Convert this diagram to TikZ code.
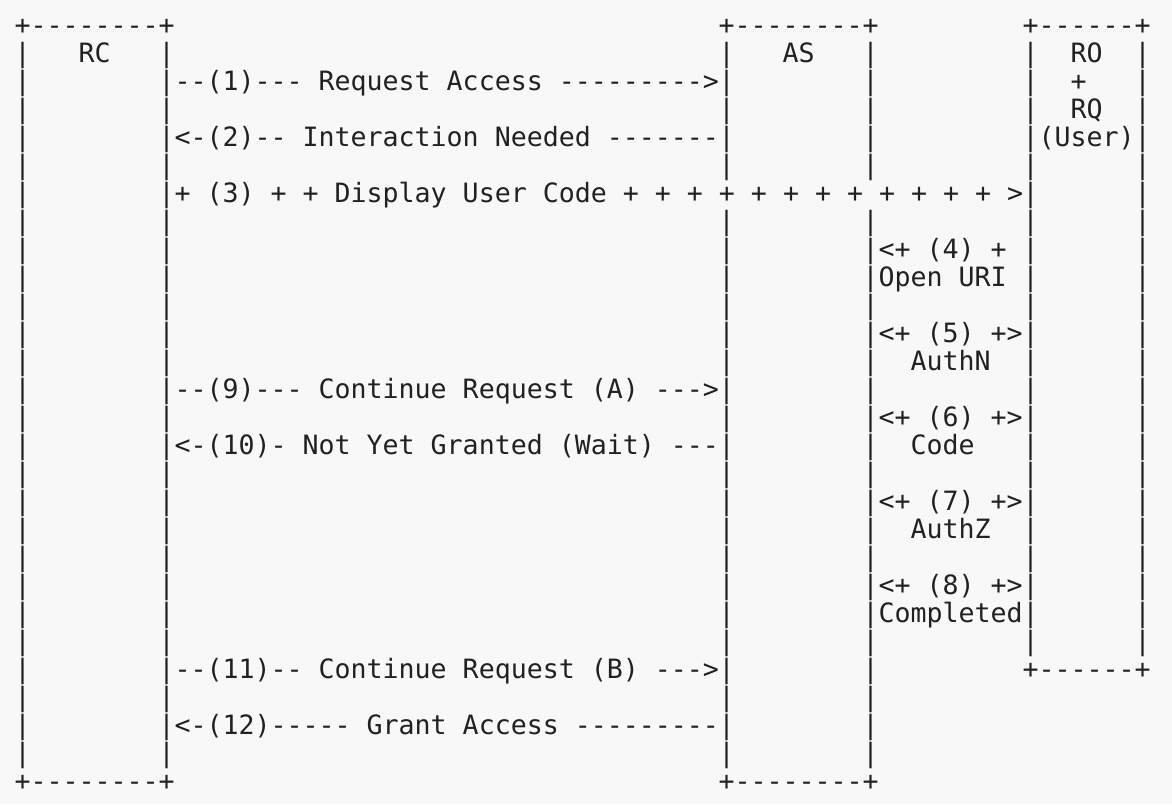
\documentclass[tikz,border=0pt]{standalone}
\usepackage{fontspec}
\setmonofont{DejaVu Sans Mono}
\usetikzlibrary{positioning}
\definecolor{paper}{rgb}{0.973,0.973,0.973}
\definecolor{ink}{rgb}{0.13,0.13,0.13}

% one character cell of the drawing, in px
\newcommand{\cw}{16}
\newcommand{\rh}{28.03}
% text at column #1, row #2
\newcommand{\asc}[3]{\node[ascii] (t-#2-#1) at ({14.5+#1*\cw},{34+#2*\rh}) {#3};}

\begin{document}
\begin{tikzpicture}[x=1pt,y=-1pt]

	\tikzset{ascii/.style={font=\ttfamily\fontsize{26.6}{28}\selectfont,
			text=ink, anchor=base west, inner sep=0pt, outer sep=0pt}}

	\fill[paper] (0,0) rectangle (1172,804);

	% box edges
	\asc{0}{0}{+--------+}
	\asc{44}{0}{+--------+}
	\asc{63}{0}{+------+}
	\asc{0}{27}{+--------+}
	\asc{44}{27}{+--------+}
	\asc{63}{23}{+------+}
	\foreach \r in {1,...,26}{
		\asc{0}{\r}{|}
		\asc{9}{\r}{|}
		\ifnum\r=6 \else
		\asc{44}{\r}{|}
		\asc{53}{\r}{|}
		\fi
	}
	\foreach \r in {1,...,22}{
		\asc{63}{\r}{|}
		\asc{70}{\r}{|}
	}

	% box names
	\asc{4}{1}{RC}
	\asc{48}{1}{AS}
	\asc{66}{1}{RO}
	\asc{66}{2}{+}
	\asc{66}{3}{RQ}
	\asc{64}{4}{(User)}

	% messages RC <-> AS
	\asc{10}{2}{--(1)--- Request Access --------->}
	\asc{10}{4}{<-(2)-- Interaction Needed -------}
	\asc{10}{6}{+ (3) + + Display User Code + + + + + + + + + + + + >}
	\asc{10}{13}{--(9)--- Continue Request (A) --->}
	\asc{10}{15}{<-(10)- Not Yet Granted (Wait) ---}
	\asc{10}{23}{--(11)-- Continue Request (B) --->}
	\asc{10}{25}{<-(12)----- Grant Access ---------}

	% steps AS <-> user
	\asc{54}{8}{<+ (4) +}
	\asc{54}{9}{Open URI}
	\asc{54}{11}{<+ (5) +>}
	\asc{56}{12}{AuthN}
	\asc{54}{14}{<+ (6) +>}
	\asc{56}{15}{Code}
	\asc{54}{17}{<+ (7) +>}
	\asc{56}{18}{AuthZ}
	\asc{54}{20}{<+ (8) +>}
	\asc{54}{21}{Completed}

\end{tikzpicture}
\end{document}
